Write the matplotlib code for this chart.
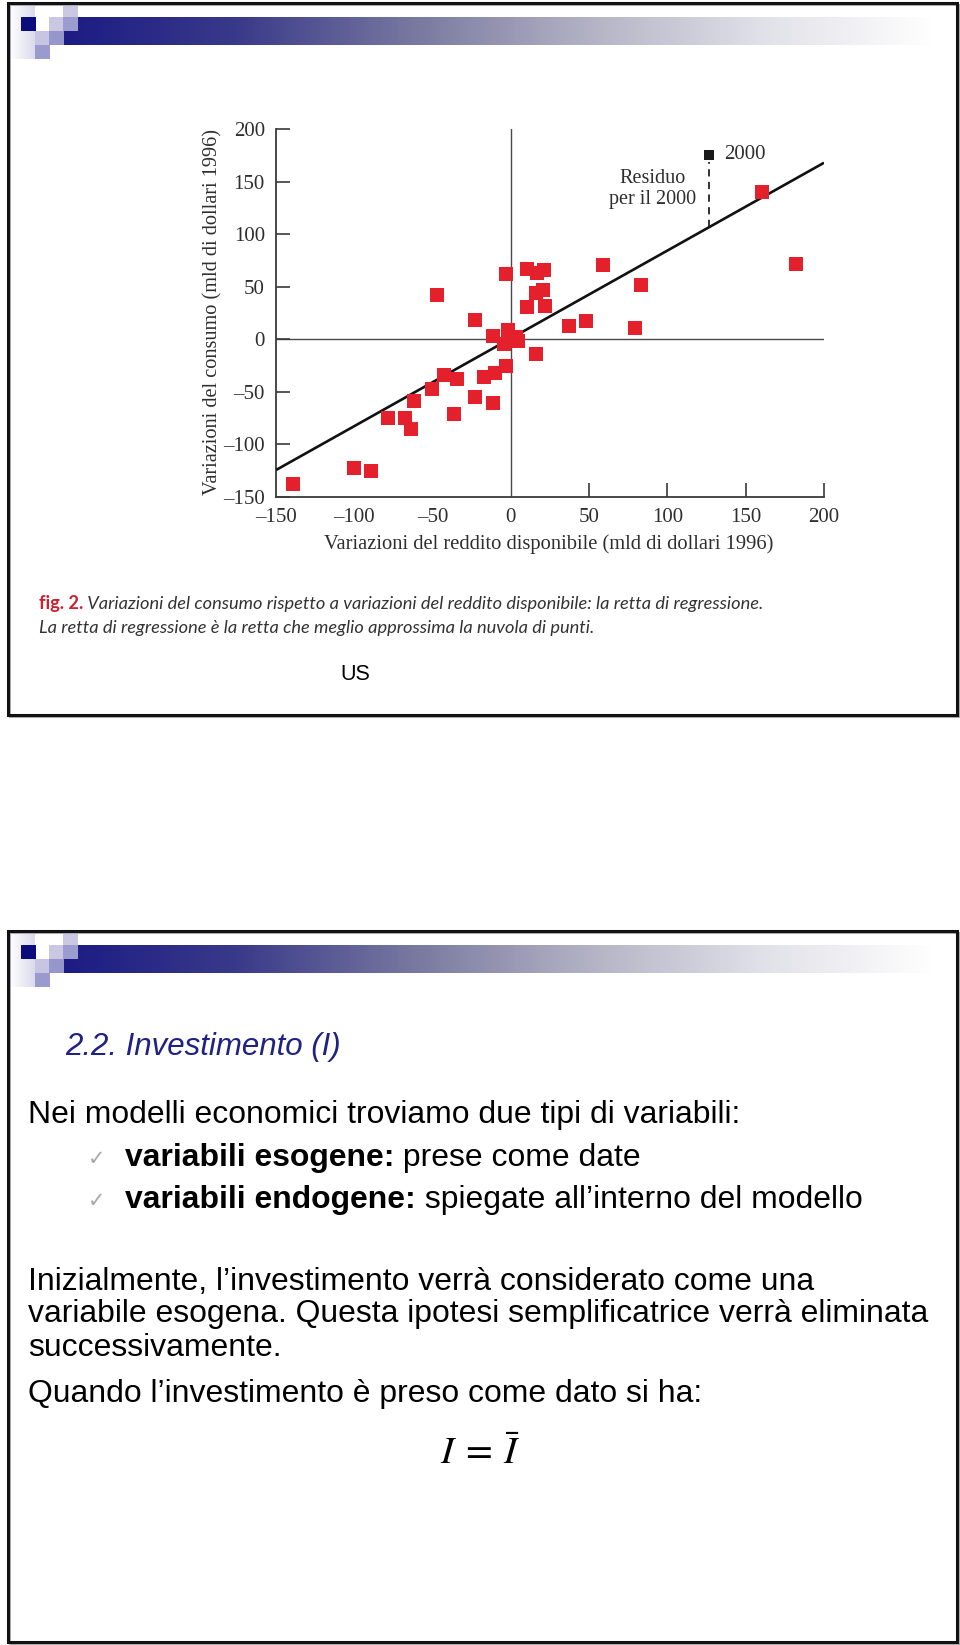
import numpy as np
import matplotlib
matplotlib.use('Agg')
import matplotlib.pyplot as plt
from matplotlib.patches import Rectangle
from matplotlib.colors import LinearSegmentedColormap

plt.rcParams['mathtext.fontset'] = 'stix'

# ---------------- data ----------------
income_change = [-139.4, -100.1, -89.2, -78.4, -67.3, -63.9, -61.6, -50.1, -47.0, -42.7,
                 -36.3, -34.2, -22.9, -22.9, -17.2, -11.7, -10.2, -11.7, -4.5, -3.2,
                 -2.8, -1.7, 3.6, 4.7, 10.0, 10.0, 15.9, 15.9, 16.8, 20.6,
                 21.0, 22.1, 37.0, 48.2, 58.9, 83.2, 79.0, 160.7, 182.1]
consumption_change = [-138.0, -122.1, -125.3, -74.4, -75.0, -85.5, -59.1, -47.7, 41.7, -34.0,
                      -71.2, -38.2, 18.4, -54.7, -36.2, 3.2, -32.4, -61.0, -4.5, 62.3,
                      -25.8, 8.9, 2.5, -1.3, 66.8, 30.5, -14.0, 43.9, 63.0, 46.4,
                      65.5, 32.1, 13.0, 17.2, 70.9, 51.8, 10.5, 140.5, 71.9]
income_2000 = 126.4
consumption_2000 = 175.4
reg_intercept = 0.9
reg_slope = 0.835
x_ticks = [-150, -100, -50, 0, 50, 100, 150, 200]
y_ticks = [-150, -100, -50, 0, 50, 100, 150, 200]

xlabel = 'Variazioni del reddito disponibile (mld di dollari 1996)'
ylabel = 'Variazioni del consumo (mld di dollari 1996)'
caption_fig = 'fig. 2.'
caption_1 = ' Variazioni del consumo rispetto a variazioni del reddito disponibile: la retta di regressione.'
caption_2 = 'La retta di regressione è la retta che meglio approssima la nuvola di punti.'

# ---------------- figure ----------------
W, H = 960, 1645
fig = plt.figure(figsize=(W / 100, H / 100), dpi=100)
fig.patch.set_facecolor('white')
bg = fig.add_axes([0, 0, 1, 1], zorder=0)
bg.axis('off')

hdr_cmap = LinearSegmentedColormap.from_list(
    'hdr', ['#1C1C84', '#3A3A8A', '#7878A0', '#B2B2C4', '#E0E0E8', '#FFFFFF'])
wash_cmap = LinearSegmentedColormap.from_list('wash', ['#FFFFFF', '#DADAEC'])
grad = np.linspace(0, 1, 256).reshape(1, -1)


def header(dy):
    bg.imshow(grad, cmap=hdr_cmap, extent=(63, 937, 45 + dy, 17 + dy),
              aspect='auto', zorder=1, interpolation='bilinear')
    bg.imshow(grad, cmap=wash_cmap, extent=(10, 35, 59 + dy, 5 + dy),
              aspect='auto', zorder=1, interpolation='bilinear')
    squares = [(63, 4, '#C9C9E4'), (21, 17, '#0B0B7E'), (49, 17, '#C8C8E4'),
               (63, 17, '#9C9CCE'), (35, 31, '#C6C6E3'), (49, 31, '#9696CA'),
               (35, 45, '#9A9ACC')]
    for x, y, c in squares:
        bg.add_patch(Rectangle((x, y + dy), 14.5, 14, fc=c, ec='none', zorder=2))


header(0)
header(928)

for (y0, y1) in [(3, 715), (931, 1642)]:
    bg.add_patch(Rectangle((10, y0 + 2), 949, y1 - y0, fill=False, ec='#B0B0B0', lw=1.5, zorder=4))
    bg.add_patch(Rectangle((8, y0), 949, y1 - y0, fill=False, ec='#111111', lw=2.2, zorder=5))

bg.set_xlim(0, W)
bg.set_ylim(H, 0)

# ---------------- chart ----------------
serif = 'Liberation Serif'
tcol = '#2e2e2e'
ax = fig.add_axes([276 / W, 1 - 497 / H, 548 / W, 368 / H], zorder=2)
ax.patch.set_alpha(0)
ax.set_xlim(x_ticks[0], x_ticks[-1])
ax.set_ylim(y_ticks[0], y_ticks[-1])

ax.axhline(0, color='#4a4a4a', lw=1.0, zorder=1)
ax.axvline(0, color='#4a4a4a', lw=1.0, zorder=1)

xr = np.array([x_ticks[0], x_ticks[-1]], dtype=float)
ax.plot(xr, reg_intercept + reg_slope * xr, color='#111111', lw=1.9, zorder=3,
        solid_capstyle='butt')

ax.scatter(income_change, consumption_change, marker='s', s=90, color='#E3202B',
           linewidths=0, zorder=4, clip_on=False)
ax.scatter([income_2000], [consumption_2000], marker='s', s=60, color='#1a1a1a',
           linewidths=0, zorder=4, clip_on=False)
ax.vlines(income_2000, reg_intercept + reg_slope * income_2000, consumption_2000 - 7,
          colors='#222222', linestyles=(0, (4, 3)), lw=1.3, zorder=3)

ax.text(income_2000 + 10, consumption_2000, '2000', ha='left', va='center',
        family=serif, fontsize=15, color=tcol)
ax.text(90.3, 143, 'Residuo\nper il 2000', ha='center', va='center', family=serif,
        fontsize=14.5, color=tcol, linespacing=1.1)

for s in ['top', 'right']:
    ax.spines[s].set_visible(False)
for s in ['left', 'bottom']:
    ax.spines[s].set_color('#3a3a3a')
    ax.spines[s].set_linewidth(1.3)


def fmt(v):
    return ('\u2013' + str(abs(v))) if v < 0 else str(v)


ax.set_xticks(x_ticks)
ax.set_xticklabels([fmt(v) for v in x_ticks])
ax.set_yticks(y_ticks)
ax.set_yticklabels([fmt(v) for v in y_ticks])
ax.tick_params(direction='in', length=10, width=1.2, color='#3a3a3a',
               labelsize=15, labelcolor=tcol, pad=8)
for lab in ax.get_xticklabels() + ax.get_yticklabels():
    lab.set_family(serif)
for t, v in zip(ax.xaxis.get_major_ticks(), x_ticks):
    if v <= 0:
        t.tick1line.set_visible(False)

ax.set_xlabel(xlabel, family=serif, fontsize=14.8, color=tcol)
ax.set_ylabel(ylabel, family=serif, fontsize=14.6, color=tcol)
ax.xaxis.set_label_coords(0.498, -0.100)
ax.yaxis.set_label_coords(-0.097, 0.504)

# ---------------- texts ----------------
fig.canvas.draw()
renderer = fig.canvas.get_renderer()


def twidth(s, size, **kw):
    t = bg.text(0, 0, s, fontsize=size, **kw)
    w = t.get_window_extent(renderer).width
    t.remove()
    return w


cap_kw_r = dict(family='Lato', fontweight='bold', color='#D0202E')
cap_kw_i = dict(family='Lato', fontstyle='italic', color='#333333')
w0 = twidth(caption_fig, 10, **cap_kw_r) + twidth(caption_1, 10, **cap_kw_i)
cap_size = 10 * 725 / w0
t1 = bg.text(39, 609, caption_fig, fontsize=cap_size, va='baseline', **cap_kw_r)
w1 = t1.get_window_extent(renderer).width
bg.text(39 + w1, 609, caption_1, fontsize=cap_size, va='baseline', **cap_kw_i)
bg.text(39, 633, caption_2, fontsize=cap_size, va='baseline', **cap_kw_i)

bg.text(355.6, 675, 'US', ha='center', va='center', family='Liberation Sans',
        fontsize=15.5, color='black')

sans = 'Liberation Sans'
title = '2.2. Investimento (I)'
tsize = 22 * 276 / twidth(title, 22, family=sans, fontstyle='italic')
bg.text(65, 1055, title, fontsize=tsize, family=sans, fontstyle='italic',
        color='#1F2183', va='baseline')

long_line = 'variabile esogena. Questa ipotesi semplificatrice verrà eliminata'
bsize = 22 * 895 / twidth(long_line, 22, family=sans)

plain_lines = [
    (28, 1123, 'Nei modelli economici troviamo due tipi di variabili:'),
    (28, 1290, 'Inizialmente, l\u2019investimento verrà considerato come una'),
    (28, 1322, long_line),
    (28, 1356, 'successivamente.'),
    (28, 1402, 'Quando l\u2019investimento è preso come dato si ha:'),
]
for x, y, s in plain_lines:
    bg.text(x, y, s, fontsize=bsize, family=sans, va='baseline', color='black')

bullets = [
    (1166, 'variabili esogene:', ' prese come date'),
    (1208, 'variabili endogene:', ' spiegate all\u2019interno del modello'),
]
for y, b, r in bullets:
    bg.text(88, y - 1, '\u2713', fontsize=15, family='DejaVu Sans', color='#A8A8A8',
            va='baseline')
    tb = bg.text(125, y, b, fontsize=bsize, family=sans, fontweight='bold',
                 va='baseline', color='black')
    wb = tb.get_window_extent(renderer).width
    bg.text(125 + wb, y, r, fontsize=bsize, family=sans, va='baseline', color='black')

bg.text(480, 1453, r'$I\:=\:\bar{I}$', fontsize=28, ha='center', va='center', color='black')

fig.savefig('out.png', dpi=100, facecolor='white')
